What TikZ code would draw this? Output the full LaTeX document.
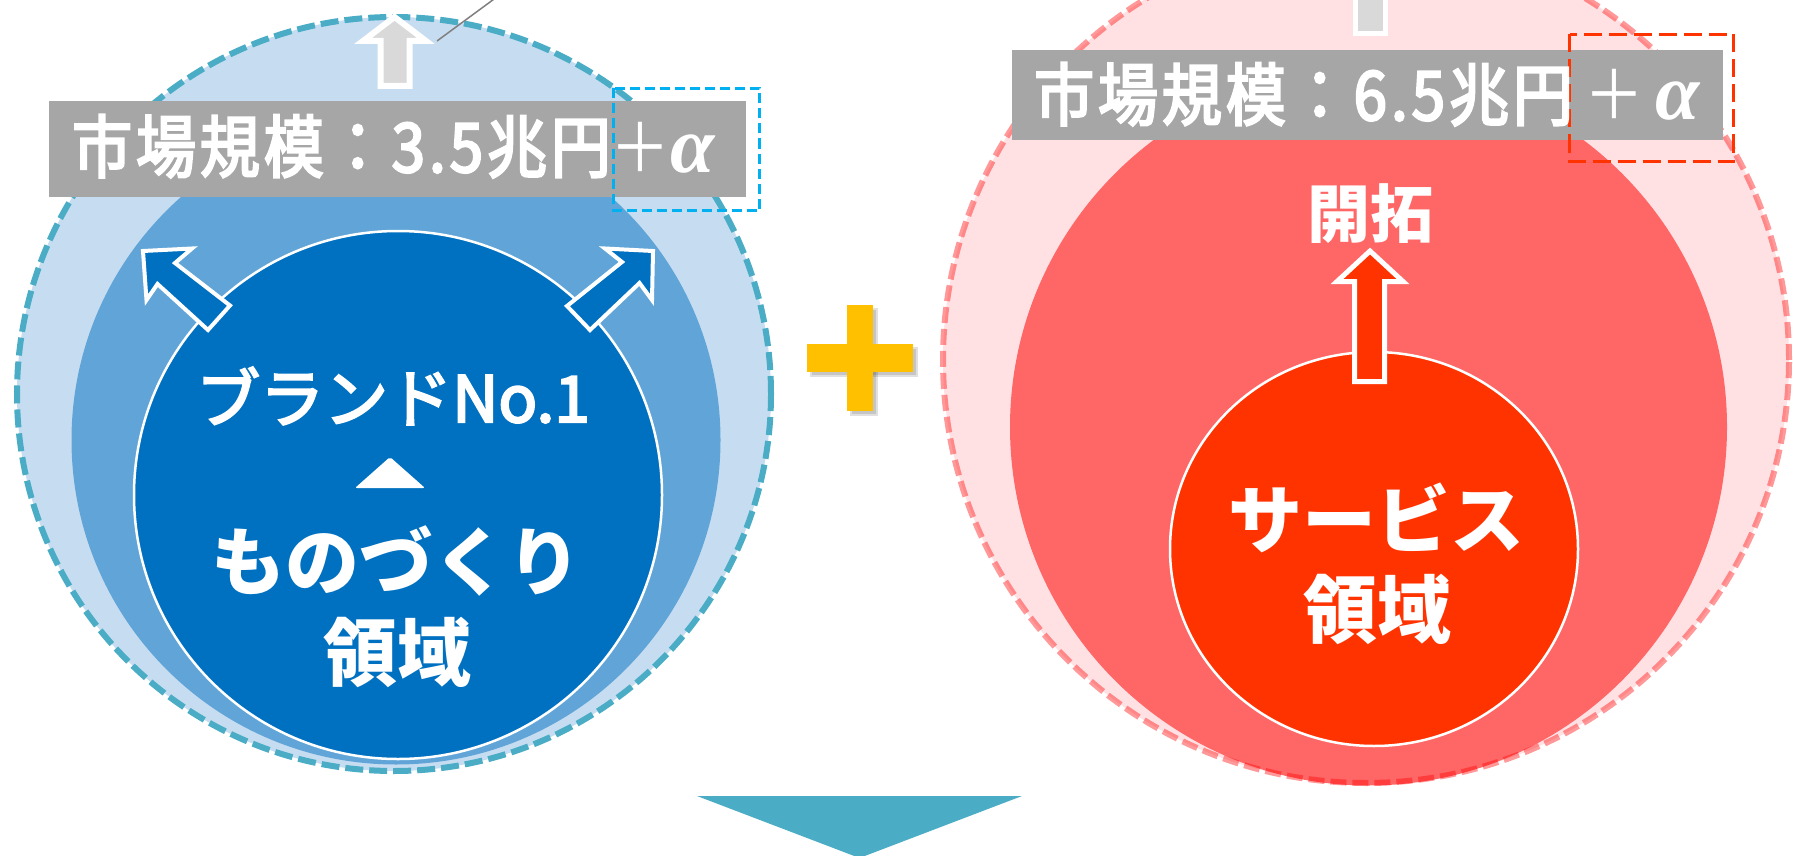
\documentclass[tikz,border=0pt]{standalone}
\usepackage{fontspec}
\usetikzlibrary{shapes.geometric}
\newfontfamily\jp{Noto Sans CJK JP}
\newfontfamily\jpm{Noto Sans CJK JP}[FakeBold=3.5]
\newfontfamily\jpc{Noto Sans CJK JP}[FakeStretch=0.88,LetterSpace=6,FakeBold=3.5]
\newfontfamily\jpt{Noto Sans CJK JP}[FakeStretch=0.88,LetterSpace=6]
\newfontfamily\grk{Liberation Serif}
\newcommand\myalpha{{\grk\bfseries\itshape\fontsize{80}{80}\selectfont α}}
\newcommand\myplus{{\jpt ＋}}
\definecolor{lbfill}{HTML}{C6DDF1}
\definecolor{mbfill}{HTML}{61A5D8}
\definecolor{dbfill}{HTML}{0070C0}
\definecolor{dashblue}{HTML}{4BACC6}
\definecolor{boxblue}{HTML}{00B0F0}
\definecolor{pinkfill}{HTML}{FFE1E4}
\definecolor{redmid}{HTML}{FF6666}
\definecolor{redin}{HTML}{FF3300}
\definecolor{graylbl}{HTML}{A6A6A6}
\definecolor{arrowgray}{HTML}{D9D9D9}
\definecolor{plusy}{HTML}{FFC000}
\definecolor{tealtri}{HTML}{4BACC6}
\definecolor{linegray}{HTML}{808080}
\begin{document}
\begin{tikzpicture}[x=1pt,y=-1pt,
  disc/.style={circle, inner sep=0pt, draw=none},
  blockarrow/.style={draw=white, line width=4pt, line join=miter},
  grayarrow/.style={draw=white, line width=6pt, line join=miter, fill=arrowgray},
  lblbox/.style={rectangle, inner sep=0pt, fill=graylbl, draw=none},
  wtxt/.style={text=white, inner sep=0pt, align=center},
  bigtxt/.style={wtxt, font=\jp\bfseries\fontsize{74}{80}\selectfont},
  lbltxt/.style={text=white, inner sep=0pt, anchor=base west, font=\jpc\fontsize{68}{72}\selectfont}]
\useasboundingbox (0,0) rectangle (1793,856);
\clip (0,0) rectangle (1793,856);

% ---------------- left group ----------------
\node[disc, minimum size=754pt, fill=lbfill] (outerL) at (394,394) {};
\node[disc, minimum size=649pt, fill=mbfill] (midL) at (396,440) {};
\node[disc, minimum size=528pt, fill=dbfill, draw=white, line width=2.5pt] (innerL) at (398,495) {};
\draw[blockarrow, fill=dbfill] (143,251) -- (192,248.5) -- (175,263) -- (230,305.5) -- (208,330) -- (157.5,284) -- (146.5,300) -- cycle;
\draw[blockarrow, fill=dbfill] (653,251) -- (605,248.5) -- (622,262) -- (567,306) -- (590,330) -- (639.5,283) -- (652,300) -- cycle;
\draw[dashblue, line width=6pt, dash pattern=on 18pt off 6pt] (outerL.center) circle [radius=377pt];
\draw[grayarrow] (394.5,17) -- (426,41) -- (409.5,41) -- (409.5,86) -- (380.5,86) -- (380.5,41) -- (363,41) -- cycle;
\coordinate (g1) at (437,41);
\coordinate (g2) at (505,-9);
\draw[linegray, line width=1.5pt] (g1) -- (g2);
\node[lblbox, minimum width=697pt, minimum height=96pt] (lblL) at (397.5,149) {};
\draw[boxblue, line width=3pt, dash pattern=on 10pt off 5pt] (613.5,88.5) rectangle (759.5,210.5);
\node[lbltxt] (tL) at (72,172) {市場規模：3.5兆円\myplus\myalpha};
\node[wtxt, font=\jpm\fontsize{64}{70}\selectfont] (brand) at (393,396) {ブランドNo.1};
\fill[white, rounded corners=2pt] (390,457) -- (425,488) -- (355,488) -- cycle;
\node[bigtxt] (mono) at (396,561) {ものづくり};
\node[bigtxt] (ryoL) at (397,652) {領域};

% ---------------- plus ----------------
\fill[black, opacity=0.12] (850,308) rectangle (878,416);
\fill[black, opacity=0.12] (810,347) rectangle (918,377);
\fill[black, opacity=0.12] (852,310) rectangle (876,414);
\fill[black, opacity=0.12] (812,349) rectangle (916,375);
\fill[plusy] (847,305) rectangle (873,411);
\fill[plusy] (807,344) rectangle (913,372);

% ---------------- right group ----------------
\node[disc, minimum size=846pt, fill=pinkfill] (outerR) at (1366,360) {};
\node[disc, minimum size=717pt, fill=redmid] (midR) at (1368.5,427) {};
\draw[red, opacity=0.4, line width=6pt, dash pattern=on 16pt off 6pt] (outerR.center) circle [radius=423pt];
\node[ellipse, inner sep=0pt, minimum width=408pt, minimum height=394pt, fill=redin, draw=white, line width=2.5pt] (innerR) at (1374,549) {};
\draw[draw=white, line width=5pt, line join=miter, fill=redin] (1370,251) -- (1403,281.5) -- (1384.5,281.5) -- (1384.5,381.5) -- (1354.5,381.5) -- (1354.5,281.5) -- (1337,281.5) -- cycle;
\draw[draw=white, line width=5pt, fill=arrowgray] (1355.5,-20) -- (1385.5,-20) -- (1385.5,33.5) -- (1355.5,33.5) -- cycle;
\node[lblbox, minimum width=711pt, minimum height=90pt] (lblR) at (1367.5,95) {};
\draw[redin, line width=3.5pt, dash pattern=on 18pt off 7pt] (1569.5,34.5) rectangle (1733.5,161.5);
\node[lbltxt] (tR) at (1034,120) {市場規模：6.5兆円\,\myplus\,\myalpha};
\node[wtxt, font=\jp\bfseries\fontsize{63}{70}\selectfont] (kai) at (1370,214) {開拓};
\node[bigtxt] (svc) at (1376,518) {サービス};
\node[bigtxt] (ryoR) at (1377,609) {領域};

% ---------------- bottom triangle ----------------
\fill[tealtri] (697,796) -- (1022,796) -- (859.5,858) -- cycle;
\end{tikzpicture}
\end{document}
